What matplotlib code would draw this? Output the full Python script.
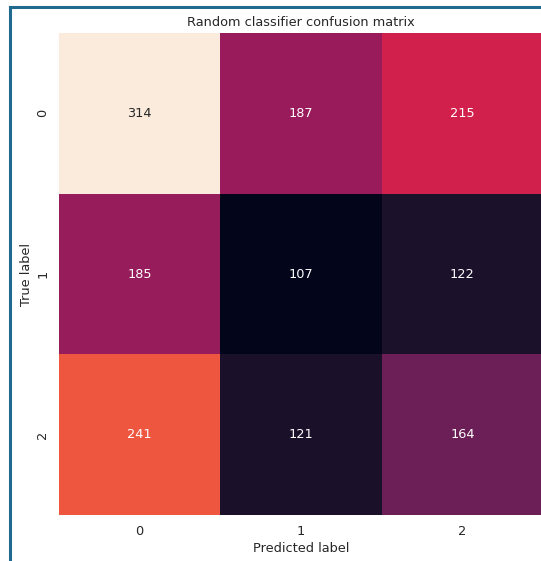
import matplotlib
matplotlib.use("Agg")
import matplotlib.pyplot as plt
import seaborn as sns
import numpy as np
from matplotlib.lines import Line2D

sns.set_theme(style="white")
plt.rcParams['font.family'] = ['DejaVu Sans']

labels = ["0", "1", "2"]
row_0 = [314, 187, 215]
row_1 = [185, 107, 122]
row_2 = [241, 121, 164]

matrix = np.array([row_0, row_1, row_2])

fs = 9.3

fig = plt.figure(figsize=(5.41, 5.61), dpi=100)
ax = fig.add_axes([59 / 541, 1 - 515 / 561, 484 / 541, 482 / 561])

sns.heatmap(matrix, annot=True, fmt="d", cmap="rocket", cbar=False,
            xticklabels=labels, yticklabels=labels, ax=ax,
            annot_kws={"fontsize": fs})
ax.set_title("Random classifier confusion matrix", fontsize=fs, pad=5)
ax.set_xlabel("Predicted label", fontsize=fs, labelpad=2.5)
ax.set_ylabel("True label", fontsize=fs, labelpad=2.5)
ax.tick_params(axis="x", labelsize=fs, length=0, pad=7.5)
ax.tick_params(axis="y", labelsize=fs, length=0, pad=7)
plt.setp(ax.get_yticklabels(), rotation=90, va="center")

# frame around the panel
border = "#1f6a8e"
fig.add_artist(Line2D([10 / 541, 10 / 541], [0, 1 - 7 / 561],
                      transform=fig.transFigure, color=border, lw=2.2,
                      solid_capstyle="projecting"))
fig.add_artist(Line2D([10 / 541, 1.0], [1 - 7 / 561, 1 - 7 / 561],
                      transform=fig.transFigure, color=border, lw=2.2,
                      solid_capstyle="projecting"))

fig.savefig("out.png", dpi=100)
